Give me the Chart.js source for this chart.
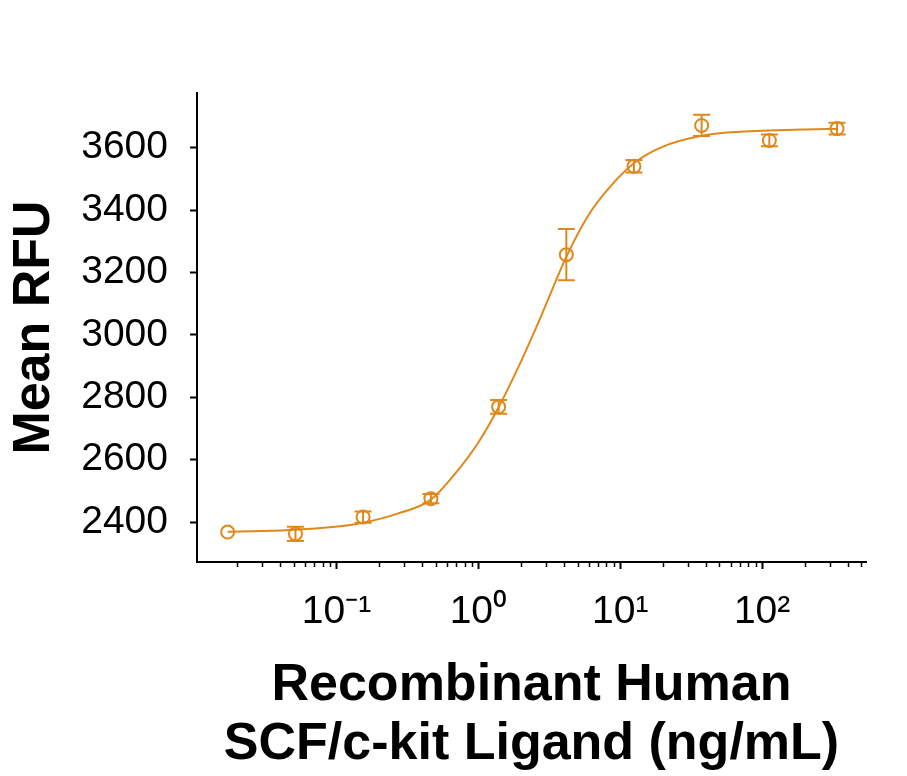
<!DOCTYPE html>
<html>
<head>
<meta charset="utf-8">
<script src="https://cdn.jsdelivr.net/npm/chart.js@4/dist/chart.umd.min.js"></script>
<style>
  html, body { margin: 0; padding: 0; background: #ffffff; }
  #wrap { width: 907px; height: 776px; position: relative; }
</style>
</head>
<body>
<div id="wrap"><canvas id="c"></canvas></div>
<script>
// ---- data ----
const concentrations = [0.0171, 0.0514, 0.154, 0.463, 1.39, 4.17, 12.5, 37.5, 112.5, 337.5]; // ng/mL
const meanRFU        = [2368, 2362, 2416, 2475, 2769, 3257, 3540, 3671, 3623, 3661];
const errorRFU       = [0, 23, 18, 15, 22, 82, 20, 34, 19, 19];

// fitted curve, points
const curveX = [0.0171, 0.03, 0.0514, 0.09, 0.154, 0.27, 0.463, 0.7, 1.0, 1.39, 2.0, 2.8, 4.17, 6.0, 8.5, 12.5, 20, 37.5, 70, 112.5, 200, 337.5];
const curveY = [2369, 2371, 2375, 2383, 2398, 2427, 2472, 2560, 2655, 2768, 2915, 3065, 3250, 3385, 3475, 3550, 3603, 3638, 3651, 3655, 3658, 3660];

// axis ticks
const yTickValues = [2400, 2600, 2800, 3000, 3200, 3400, 3600];
const xTickValues = [0.1, 1, 10, 100];
const xTickLabels = ['10\u207B\u00B9', '10\u2070', '10\u00B9', '10\u00B2'];

const xTitle = ['Recombinant Human', 'SCF/c-kit Ligand (ng/mL)'];
const yTitle = 'Mean RFU';

const ORANGE = '#E0881A';
const X_MIN = 0.0104, X_MAX = 540;
const Y_MIN = 2272, Y_MAX = 3775;

// minor tick values of the log axis (2..9 x 10^k inside the range)
function minorValues() {
  const out = [];
  for (let k = -2; k <= 2; k++) {
    for (let m = 2; m <= 9; m++) {
      const v = m * Math.pow(10, k);
      if (v >= X_MIN && v <= X_MAX) out.push(v);
    }
  }
  return out;
}

const errorBarPlugin = {
  id: 'errorBars',
  afterDatasetsDraw(chart) {
    const xs = chart.scales.x, ys = chart.scales.y;
    const ctx = chart.ctx;
    ctx.save();
    ctx.strokeStyle = ORANGE;
    ctx.lineWidth = 2;
    for (let i = 0; i < concentrations.length; i++) {
      if (!errorRFU[i]) continue;
      const px = xs.getPixelForValue(concentrations[i]);
      const pt = ys.getPixelForValue(meanRFU[i] + errorRFU[i]);
      const pb = ys.getPixelForValue(meanRFU[i] - errorRFU[i]);
      ctx.beginPath();
      ctx.moveTo(px, pt); ctx.lineTo(px, pb);
      ctx.moveTo(px - 8.5, pt); ctx.lineTo(px + 8.5, pt);
      ctx.moveTo(px - 8.5, pb); ctx.lineTo(px + 8.5, pb);
      ctx.stroke();
    }
    ctx.restore();
  }
};

const minorTickPlugin = {
  id: 'minorTicks',
  afterDraw(chart) {
    const xs = chart.scales.x;
    const ctx = chart.ctx;
    const y0 = xs.top;
    ctx.save();
    ctx.strokeStyle = '#000';
    ctx.lineWidth = 1.5;
    minorValues().forEach(v => {
      const px = Math.round(xs.getPixelForValue(v)) + 0.5;
      ctx.beginPath();
      ctx.moveTo(px, y0);
      ctx.lineTo(px, y0 + 5);
      ctx.stroke();
    });
    ctx.restore();
  }
};

new Chart(document.getElementById('c'), {
  data: {
    datasets: [
      {
        type: 'line',
        label: 'fit',
        data: curveX.map((x, i) => ({ x: x, y: curveY[i] })),
        borderColor: ORANGE,
        borderWidth: 2,
        pointRadius: 0,
        fill: false,
        cubicInterpolationMode: 'monotone'
      },
      {
        type: 'scatter',
        label: 'Mean RFU',
        data: concentrations.map((x, i) => ({ x: x, y: meanRFU[i] })),
        borderColor: ORANGE,
        backgroundColor: 'rgba(0,0,0,0)',
        borderWidth: 2,
        pointStyle: 'circle',
        pointRadius: 6.5,
        pointHoverRadius: 6.5
      }
    ]
  },
  options: {
    responsive: true,
    maintainAspectRatio: false,
    animation: false,
    events: [],
    layout: { padding: { left: 0, right: 41, top: 93, bottom: 0 } },
    plugins: {
      legend: { display: false },
      tooltip: { enabled: false },
      title: { display: false }
    },
    scales: {
      x: {
        type: 'logarithmic',
        position: 'bottom',
        min: X_MIN,
        max: X_MAX,
        afterBuildTicks: (s) => { s.ticks = xTickValues.map(v => ({ value: v })); },
        afterFit: (s) => { s.height = 214; },
        border: { display: true, color: '#000', width: 2 },
        grid: { display: true, drawOnChartArea: false, drawTicks: true, tickLength: 7, tickColor: '#000', tickWidth: 2 },
        ticks: {
          autoSkip: false,
          maxRotation: 0,
          minRotation: 0,
          padding: 20,
          color: '#000',
          font: { family: '"Liberation Sans", Arial, sans-serif', size: 39 },
          callback: (value) => {
            const idx = xTickValues.findIndex(v => Math.abs(v - value) / v < 1e-6);
            return idx >= 0 ? xTickLabels[idx] : '';
          }
        },
        title: {
          display: true,
          text: xTitle,
          color: '#000',
          padding: { top: 0, bottom: 1 },
          font: { family: '"Liberation Sans", Arial, sans-serif', size: 52, weight: 'bold', lineHeight: 1.15 }
        }
      },
      y: {
        type: 'linear',
        position: 'left',
        min: Y_MIN,
        max: Y_MAX,
        afterBuildTicks: (s) => { s.ticks = yTickValues.map(v => ({ value: v })); },
        afterFit: (s) => { s.width = 197; },
        border: { display: true, color: '#000', width: 2 },
        grid: { display: true, drawOnChartArea: false, drawTicks: true, tickLength: 7, tickColor: '#000', tickWidth: 2 },
        ticks: {
          padding: 22,
          color: '#000',
          font: { family: '"Liberation Sans", Arial, sans-serif', size: 39 },
          callback: (v) => String(v)
        },
        title: {
          display: true,
          text: yTitle,
          color: '#000',
          padding: { top: 3, bottom: 0 },
          font: { family: '"Liberation Sans", Arial, sans-serif', size: 52, weight: 'bold', lineHeight: 1.2 }
        }
      }
    }
  },
  plugins: [errorBarPlugin, minorTickPlugin]
});
</script>
</body>
</html>
